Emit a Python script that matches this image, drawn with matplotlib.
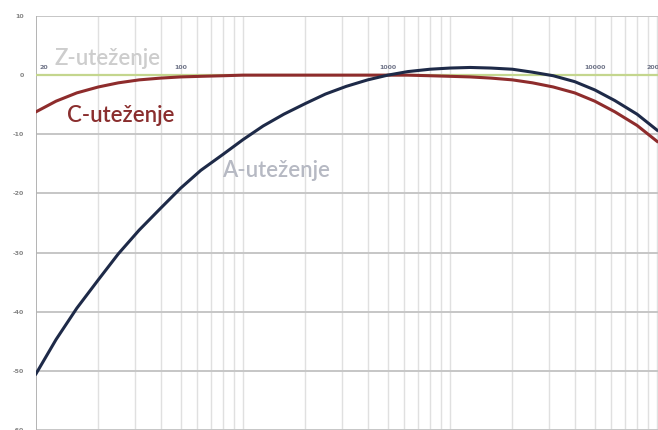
"""Frequency weighting curves A, C and Z on a log frequency axis."""
import matplotlib

matplotlib.use("Agg")
import matplotlib.pyplot as plt

# third-octave centre frequencies (Hz)
freq = [20, 25, 31.5, 40, 50, 63, 80, 100, 125, 160, 200, 250, 315, 400,
        500, 630, 800, 1000, 1250, 1600, 2000, 2500, 3150, 4000, 5000,
        6300, 8000, 10000, 12500, 16000, 20000]

a_weight = [-50.5, -44.7, -39.4, -34.6, -30.2, -26.2, -22.5, -19.1, -16.1,
            -13.4, -10.9, -8.6, -6.6, -4.8, -3.2, -1.9, -0.8, 0.0, 0.6, 1.0,
            1.2, 1.3, 1.2, 1.0, 0.5, -0.1, -1.1, -2.5, -4.3, -6.6, -9.3]

c_weight = [-6.2, -4.4, -3.0, -2.0, -1.3, -0.8, -0.5, -0.3, -0.2, -0.1,
            0.0, 0.0, 0.0, 0.0, 0.0, 0.0, 0.0, 0.0, 0.0, -0.1, -0.2, -0.3,
            -0.5, -0.8, -1.3, -2.0, -3.0, -4.4, -6.2, -8.5, -11.2]

z_freq = [20, 20000]
z_weight = [0.0, 0.0]

y_ticks = [10, 0, -10, -20, -30, -40, -50, -60]
x_labels = [20, 100, 1000, 10000, 20000]

fig = plt.figure(figsize=(6.58, 4.30), dpi=100)
ax = fig.add_axes([36 / 658, 0.0, 622 / 658, 414 / 430])
ax.set_xscale("log")
ax.set_xlim(20, 20200)
ax.set_ylim(-60, 10)

# grid: 20*k per decade vertically, every 10 dB horizontally
vgrid = [20 * k * 10 ** n for n in range(4) for k in range(1, 10)]
for v in vgrid:
    if 20 < v <= 20000:
        ax.axvline(v, color="#e0e0e0", lw=1.0, zorder=0)
for t in y_ticks:
    ax.axhline(t, color="#c6c6c6", lw=1.4, zorder=0)

for s in ax.spines.values():
    s.set_visible(False)
ax.axvline(20, color="#b3b3b3", lw=1.4, zorder=1)

ax.set_xticks([])
ax.set_xticks([], minor=True)
ax.set_yticks(y_ticks)
ax.set_yticklabels([str(t) for t in y_ticks], fontsize=4.5, color="#858585",
                   fontweight="bold")
ax.tick_params(axis="y", length=0, pad=9)

ax.plot(z_freq, z_weight, color="#c4d68e", lw=1.6, zorder=2)
ax.plot(freq, c_weight, color="#8e2c2c", lw=2.2, zorder=3)
ax.plot(freq, a_weight, color="#1e2a48", lw=2.2, zorder=4)

for f in x_labels:
    ha = "left" if f == 20 else "center"
    ax.text(f * (1.04 if f == 20 else 1.0), 1.3, str(f), fontsize=4.5,
            color="#6f7488", fontweight="bold", ha=ha, va="center", zorder=5)

font = dict(family=["Lato", "DejaVu Sans"], fontsize=16, fontweight="semibold")
ax.text(24.7, 1.7, "Z-uteženje", color="#cdcdcd", va="baseline", **font)
ax.text(28.2, -7.95, "C-uteženje", color="#8a2e2e", va="baseline", **font)
ax.text(158, -17.2, "A-uteženje", color="#b6b9c3", va="baseline", **font)

fig.savefig("out.png", dpi=100)
